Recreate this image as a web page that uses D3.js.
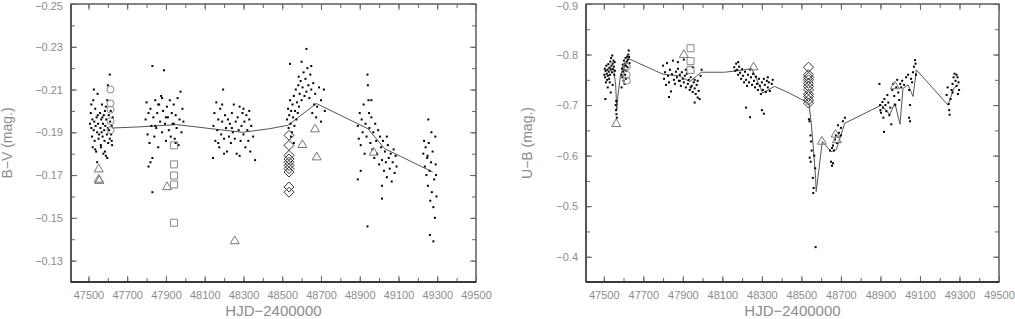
<!DOCTYPE html>
<html>
<head>
<meta charset="utf-8">
<script src="https://cdn.jsdelivr.net/npm/d3@7"></script>
<style>
  body { margin: 0; background: #fff; }
  text { font-family: "Liberation Sans", Arial, sans-serif; fill: #8c8c8c; }
</style>
</head>
<body>
<svg id="chart" width="1015" height="319"></svg>
<script>
// ---- data : B-V panel ----
const bvS1 = [[47512,-0.199],[47515,-0.192],[47518,-0.188],[47520,-0.196],[47522,-0.183],[47525,-0.205],[47527,-0.191],[47530,-0.195],
  [47532,-0.186],[47535,-0.201],[47537,-0.193],[47540,-0.181],[47542,-0.197],[47545,-0.190],[47547,-0.208],[47550,-0.194],[47552,-0.187],
  [47560,-0.199],[47562,-0.192],[47564,-0.184],[47566,-0.196],[47568,-0.190],[47570,-0.203],[47573,-0.188],[47575,-0.194],[47577,-0.180],
  [47579,-0.198],[47581,-0.191],[47583,-0.186],[47585,-0.200],[47587,-0.193],[47590,-0.179],[47592,-0.196],[47595,-0.189],[47597,-0.205],
  [47600,-0.192],[47602,-0.185],[47605,-0.198],[47607,-0.191],[47610,-0.187],[47612,-0.195],[47615,-0.200],[47617,-0.189],[47620,-0.193],
  [47622,-0.184],[47625,-0.197],[47610,-0.217],[47528,-0.210],[47545,-0.176],[47597,-0.178],[47600,-0.212],[47535,-0.182],[47565,-0.183],
  [47585,-0.181],[47515,-0.203],[47548,-0.198],[47590,-0.202],[47620,-0.186],[47508,-0.194],[47555,-0.189],[47572,-0.197]];
const bvS2 = [[47795,-0.196],[47800,-0.204],[47805,-0.189],[47810,-0.199],[47815,-0.185],[47820,-0.201],[47825,-0.193],[47830,-0.221],
  [47835,-0.197],[47840,-0.188],[47845,-0.205],[47850,-0.192],[47855,-0.199],[47860,-0.183],[47865,-0.203],[47870,-0.195],[47875,-0.207],
  [47880,-0.190],[47885,-0.200],[47890,-0.219],[47895,-0.194],[47900,-0.186],[47905,-0.202],[47910,-0.197],[47915,-0.191],[47920,-0.205],
  [47925,-0.188],[47930,-0.199],[47935,-0.194],[47940,-0.203],[47945,-0.187],[47950,-0.198],[47955,-0.192],[47960,-0.206],[47965,-0.184],
  [47970,-0.196],[47975,-0.209],[47980,-0.190],[47985,-0.201],[47990,-0.195],[47830,-0.178],[47810,-0.174],[47820,-0.176],[47830,-0.162],
  [47860,-0.203],[47880,-0.206],[47900,-0.197],[47940,-0.194],[47950,-0.185],[47845,-0.193]];
const bvS3 = [[48145,-0.193],[48150,-0.199],[48155,-0.186],[48160,-0.204],[48165,-0.191],[48170,-0.196],[48175,-0.183],[48180,-0.201],
  [48185,-0.189],[48190,-0.195],[48195,-0.210],[48200,-0.187],[48205,-0.198],[48210,-0.192],[48215,-0.181],[48220,-0.196],[48225,-0.188],
  [48230,-0.194],[48235,-0.185],[48240,-0.199],[48245,-0.190],[48250,-0.203],[48255,-0.187],[48260,-0.195],[48265,-0.180],[48270,-0.197],
  [48275,-0.191],[48280,-0.202],[48285,-0.186],[48290,-0.193],[48295,-0.199],[48300,-0.189],[48305,-0.195],[48310,-0.183],[48315,-0.198],
  [48320,-0.191],[48325,-0.186],[48330,-0.196],[48335,-0.181],[48340,-0.193],[48350,-0.188],[48360,-0.177],[48143,-0.178],[48200,-0.180],
  [48280,-0.179],[48190,-0.203],[48240,-0.192],[48300,-0.201],[48330,-0.200],[48170,-0.185]];
const bvS4 = [[48525,-0.196],[48530,-0.201],[48533,-0.192],[48536,-0.198],[48540,-0.205],[48543,-0.194],[48546,-0.200],[48550,-0.190],
  [48553,-0.203],[48556,-0.197],[48560,-0.207],[48563,-0.193],[48566,-0.200],[48570,-0.210],[48573,-0.196],[48576,-0.204],[48580,-0.199],
  [48583,-0.212],[48586,-0.202],[48590,-0.208],[48595,-0.214],[48600,-0.205],[48605,-0.211],[48610,-0.218],[48615,-0.207],[48620,-0.215],
  [48625,-0.209],[48630,-0.220],[48635,-0.212],[48640,-0.206],[48645,-0.217],[48650,-0.210],[48655,-0.199],[48660,-0.213],[48665,-0.203],
  [48670,-0.208],[48675,-0.197],[48680,-0.202],[48690,-0.211],[48700,-0.205],[48720,-0.200],[48625,-0.229],[48540,-0.222],[48600,-0.223],
  [48650,-0.221],[48560,-0.185],[48545,-0.188],[48700,-0.195],[48715,-0.210],[48585,-0.216]];
const bvS5 = [[48890,-0.193],[48895,-0.187],[48900,-0.199],[48905,-0.184],[48910,-0.196],[48915,-0.190],[48920,-0.203],[48925,-0.180],
  [48930,-0.194],[48935,-0.188],[48940,-0.217],[48942,-0.212],[48945,-0.205],[48948,-0.199],[48950,-0.192],[48955,-0.185],[48960,-0.197],
  [48965,-0.182],[48970,-0.190],[48975,-0.178],[48980,-0.194],[48985,-0.186],[48990,-0.180],[48995,-0.191],[49000,-0.175],[49005,-0.188],
  [49010,-0.183],[49015,-0.177],[49020,-0.186],[49025,-0.172],[49030,-0.181],[49035,-0.176],[49040,-0.169],[49045,-0.184],[49050,-0.178],
  [49055,-0.173],[49060,-0.180],[49065,-0.167],[49070,-0.176],[49075,-0.182],[49080,-0.171],[49085,-0.179],[49090,-0.174],[48940,-0.146],
  [49015,-0.159],[49015,-0.165],[48890,-0.168],[48905,-0.172],[48960,-0.205],[49040,-0.188]];
const bvS6 = [[49228,-0.180],[49232,-0.186],[49236,-0.174],[49240,-0.183],[49244,-0.170],[49248,-0.178],[49252,-0.165],[49256,-0.185],
  [49260,-0.172],[49264,-0.158],[49268,-0.176],[49272,-0.162],[49276,-0.181],[49280,-0.155],[49284,-0.168],[49288,-0.150],[49292,-0.175],
  [49296,-0.160],[49254,-0.196],[49270,-0.190],[49290,-0.188],[49262,-0.142],[49280,-0.139],[49294,-0.170],[49250,-0.179]];
const bvLine = [[47620,-0.192],[47755,-0.1925],[47955,-0.1936],[48161,-0.1914],[48296,-0.190],[48435,-0.1917],[48530,-0.1933],
  [48676,-0.2035],[48942,-0.1917],[49028,-0.1824],[49277,-0.1714]];
const bvTriangles = [[47553,-0.173],[47553,-0.1682],[47556,-0.1676],[47906,-0.1647],[48255,-0.1394],[48604,-0.1844],[48669,-0.1917],
  [48678,-0.1786],[48972,-0.1808]];
const bvSquares = [[47942,-0.1839],[47942,-0.175],[47942,-0.1698],[47942,-0.1656],[47942,-0.1477]];
const bvCircles = [[47614,-0.210],[47614,-0.2035],[47614,-0.2006],[47614,-0.1952],[47614,-0.191]];
const bvDiamonds = [[48535,-0.1886],[48535,-0.1839],[48535,-0.1792],[48535,-0.1775],[48535,-0.1760],[48535,-0.1745],[48535,-0.1730],
  [48535,-0.1714],[48535,-0.1644],[48535,-0.162]];

// ---- data : U-B panel ----
const ubS1 = [[47503,-0.760],[47505,-0.772],[47507,-0.755],[47509,-0.768],[47511,-0.745],[47513,-0.778],[47515,-0.762],[47517,-0.750],
  [47519,-0.770],[47521,-0.758],[47523,-0.781],[47525,-0.766],[47527,-0.752],[47529,-0.774],[47531,-0.760],[47533,-0.786],[47535,-0.770],
  [47537,-0.793],[47539,-0.778],[47541,-0.765],[47543,-0.798],[47545,-0.782],[47547,-0.771],[47549,-0.788],[47551,-0.776],[47553,-0.760],
  [47555,-0.785],[47557,-0.768],[47545,-0.740],[47520,-0.735],[47508,-0.712],[47535,-0.725],[47560,-0.700],[47562,-0.690],[47564,-0.682],
  [47563,-0.708],[47566,-0.675],[47530,-0.745],[47590,-0.760],[47592,-0.772],[47594,-0.755],[47596,-0.780],[47598,-0.766],[47600,-0.775],
  [47602,-0.788],[47604,-0.770],[47606,-0.782],[47608,-0.760],[47610,-0.793],[47612,-0.778],[47614,-0.768],[47616,-0.786],[47618,-0.796],
  [47620,-0.775],[47622,-0.790],[47624,-0.800],[47626,-0.808],[47628,-0.795],[47630,-0.783],[47600,-0.748],[47605,-0.742],[47612,-0.752],
  [47590,-0.735]];
const ubS2 = [[47800,-0.778],[47805,-0.752],[47810,-0.765],[47815,-0.740],[47820,-0.783],[47825,-0.758],[47830,-0.745],[47835,-0.770],
  [47840,-0.727],[47845,-0.761],[47850,-0.788],[47855,-0.750],[47860,-0.742],[47865,-0.766],[47870,-0.755],[47875,-0.772],[47880,-0.748],
  [47885,-0.760],[47890,-0.738],[47895,-0.765],[47900,-0.752],[47905,-0.745],[47910,-0.758],[47915,-0.735],[47920,-0.762],[47925,-0.742],
  [47930,-0.750],[47935,-0.730],[47940,-0.755],[47945,-0.738],[47950,-0.726],[47955,-0.745],[47960,-0.733],[47965,-0.722],[47970,-0.740],
  [47975,-0.748],[47980,-0.728],[47985,-0.712],[47990,-0.758],[47995,-0.770],[47905,-0.790],[47950,-0.775],[47960,-0.705],[47975,-0.715],
  [47830,-0.716],[47875,-0.785],[47915,-0.770],[47940,-0.735],[47885,-0.748],[47960,-0.750]];
const ubS3 = [[48160,-0.775],[48165,-0.768],[48170,-0.782],[48175,-0.770],[48180,-0.760],[48185,-0.776],[48190,-0.764],[48195,-0.752],
  [48200,-0.771],[48205,-0.758],[48210,-0.745],[48215,-0.766],[48220,-0.750],[48225,-0.738],[48230,-0.760],[48235,-0.745],[48240,-0.770],
  [48245,-0.755],[48250,-0.740],[48255,-0.762],[48260,-0.748],[48265,-0.735],[48270,-0.756],[48275,-0.742],[48280,-0.730],[48285,-0.752],
  [48290,-0.738],[48295,-0.722],[48300,-0.745],[48305,-0.730],[48310,-0.752],[48315,-0.740],[48320,-0.726],[48325,-0.748],[48330,-0.735],
  [48335,-0.745],[48340,-0.728],[48350,-0.742],[48355,-0.750],[48220,-0.695],[48240,-0.676],[48300,-0.690],[48310,-0.683],[48180,-0.785],
  [48330,-0.755]];
const ubS4 = [[48538,-0.672],[48541,-0.668],[48546,-0.640],[48549,-0.628],[48542,-0.596],[48547,-0.588],[48552,-0.610],[48558,-0.556],
  [48562,-0.536],[48560,-0.526],[48572,-0.419],[48565,-0.600],[48570,-0.575],[48650,-0.588],[48655,-0.580],[48660,-0.585],[48645,-0.610],
  [48660,-0.620],[48670,-0.632],[48675,-0.640],[48680,-0.625],[48690,-0.645],[48700,-0.655],[48710,-0.668],[48720,-0.675],[48665,-0.610],
  [48685,-0.660],[48700,-0.640],[48655,-0.615]];
const ubS5 = [[48895,-0.742],[48898,-0.700],[48900,-0.690],[48903,-0.685],[48910,-0.706],[48913,-0.695],[48915,-0.675],[48918,-0.647],
  [48920,-0.712],[48925,-0.700],[48930,-0.688],[48935,-0.720],[48940,-0.705],[48945,-0.680],[48950,-0.695],[48955,-0.662],[48960,-0.730],
  [48965,-0.742],[48970,-0.718],[48975,-0.700],[48980,-0.735],[48985,-0.750],[48990,-0.725],[48995,-0.710],[49000,-0.742],[49005,-0.735],
  [49010,-0.748],[49020,-0.740],[49030,-0.755],[49040,-0.760],[49045,-0.730],[49050,-0.700],[49055,-0.752],[49060,-0.745],[49065,-0.765],
  [49070,-0.776],[49075,-0.789],[49078,-0.782],[49080,-0.760],[49045,-0.675],[49050,-0.668]];
const ubS6 = [[49235,-0.720],[49240,-0.735],[49245,-0.702],[49248,-0.690],[49250,-0.681],[49255,-0.712],[49260,-0.730],[49265,-0.742],
  [49270,-0.755],[49275,-0.762],[49280,-0.748],[49285,-0.738],[49290,-0.755],[49295,-0.745],[49298,-0.730],[49285,-0.760],[49265,-0.725],
  [49292,-0.722]];
const ubLine = [[47505,-0.765],[47530,-0.775],[47550,-0.770],[47560,-0.740],[47566,-0.690],[47572,-0.720],[47585,-0.760],[47600,-0.775],
  [47625,-0.792],[47800,-0.761],[47880,-0.758],[47935,-0.7465],[47993,-0.765],[48110,-0.765],[48170,-0.7676],[48250,-0.772],[48304,-0.724],
  [48364,-0.737],[48440,-0.7235],[48538,-0.7037],[48550,-0.664],[48562,-0.608],[48572,-0.5555],[48575,-0.529],[48606,-0.628],[48651,-0.608],
  [48677,-0.612],[48719,-0.664],[48905,-0.700],[48947,-0.681],[48973,-0.704],[48999,-0.662],[49014,-0.733],[49040,-0.740],[49065,-0.717],
  [49082,-0.7696],[49242,-0.700],[49271,-0.733],[49292,-0.740]];
const ubTriangles = [[47563,-0.664],[47905,-0.8006],[48258,-0.776],[48604,-0.629],[48673,-0.643],[48680,-0.632],[48973,-0.7386]];
const ubSquares = [[47939,-0.8125],[47939,-0.787],[47939,-0.7696]];
const ubCircles = [[47616,-0.776],[47616,-0.760],[47616,-0.748]];
const ubDiamonds = [[48536,-0.775],[48536,-0.760],[48536,-0.755],[48536,-0.750],[48536,-0.743],[48536,-0.737],[48536,-0.730],
  [48536,-0.7215],[48536,-0.717],[48536,-0.710],[48536,-0.704]];

const xTicks = [47500, 47700, 47900, 48100, 48300, 48500, 48700, 48900, 49100, 49300, 49500];
const bvTicks = [-0.25, -0.23, -0.21, -0.19, -0.17, -0.15, -0.13];
const ubTicks = [-0.9, -0.8, -0.7, -0.6, -0.5, -0.4];

const svg = d3.select("#chart");

function drawPanel(p) {
  const x = d3.scaleLinear().domain([47410, 49500]).range([p.left, p.right]);
  const y = d3.scaleLinear().domain(p.yDomain).range([4, 282]);
  const g = svg.append("g");

  // frame
  g.append("rect")
    .attr("x", p.left).attr("y", 4)
    .attr("width", p.right - p.left).attr("height", 278)
    .attr("fill", "none").attr("stroke", "#333").attr("stroke-width", 1.2);

  const minorX = d3.range(47500, 49501, 100);
  const tickStyle = sel => {
    sel.select(".domain").remove();
    sel.selectAll("line").attr("stroke", "#666");
  };

  g.append("g").attr("transform", `translate(0,282)`)
    .call(d3.axisBottom(x).tickValues(minorX).tickSize(-4).tickFormat(""))
    .call(tickStyle);
  g.append("g").attr("transform", `translate(0,4)`)
    .call(d3.axisTop(x).tickValues(minorX).tickSize(-4).tickFormat(""))
    .call(tickStyle);
  g.append("g").attr("transform", `translate(0,282)`)
    .call(d3.axisBottom(x).tickValues(xTicks).tickSize(-6).tickPadding(9).tickFormat(d3.format("d")))
    .call(tickStyle)
    .selectAll("text").style("font-size", "11px").attr("fill", "#8c8c8c")
      .style("font-family", "Liberation Sans, Arial, sans-serif");
  g.append("g").attr("transform", `translate(0,4)`)
    .call(d3.axisTop(x).tickValues(xTicks).tickSize(-6).tickFormat(""))
    .call(tickStyle);

  g.append("g").attr("transform", `translate(${p.left},0)`)
    .call(d3.axisLeft(y).tickValues(p.yMinor).tickSize(-4).tickFormat(""))
    .call(tickStyle);
  g.append("g").attr("transform", `translate(${p.right},0)`)
    .call(d3.axisRight(y).tickValues(p.yMinor).tickSize(-4).tickFormat(""))
    .call(tickStyle);
  g.append("g").attr("transform", `translate(${p.left},0)`)
    .call(d3.axisLeft(y).tickValues(p.yTicks).tickSize(-6).tickPadding(8).tickFormat(d3.format(p.fmt)))
    .call(tickStyle)
    .selectAll("text").style("font-size", "11px").attr("fill", "#8c8c8c")
      .style("font-family", "Liberation Sans, Arial, sans-serif")
      .attr("dy", (d, i) => i === 0 ? "0.5em" : "0.32em");
  g.append("g").attr("transform", `translate(${p.right},0)`)
    .call(d3.axisRight(y).tickValues(p.yTicks).tickSize(-6).tickFormat(""))
    .call(tickStyle);

  // heavier left / bottom edges
  g.append("line").attr("x1", p.left).attr("x2", p.left).attr("y1", 4).attr("y2", 282)
    .attr("stroke", "#555").attr("stroke-width", 2);
  g.append("line").attr("x1", p.left).attr("x2", p.right).attr("y1", 282).attr("y2", 282)
    .attr("stroke", "#222").attr("stroke-width", 1.5);

  // titles
  g.append("text")
    .attr("x", (p.left + p.right) / 2).attr("y", 316)
    .attr("text-anchor", "middle")
    .style("font-size", "15px")
    .text("HJD\u22122400000");
  g.append("text")
    .attr("transform", `translate(${p.titleX},143) rotate(-90)`)
    .attr("text-anchor", "middle")
    .style("font-size", "14px")
    .text(p.yTitle);

  // mean curve
  g.append("path")
    .datum(p.line)
    .attr("fill", "none").attr("stroke", "#555").attr("stroke-width", 1)
    .attr("d", d3.line().x(d => x(d[0])).y(d => y(d[1])));

  // photometric points
  g.append("g").selectAll("rect")
    .data(p.dots)
    .join("rect")
      .attr("x", d => x(d[0]) - 1).attr("y", d => y(d[1]) - 1)
      .attr("width", 2).attr("height", 2)
      .attr("fill", "#000");

  const shapes = [
    { data: p.triangles, d: "M0,-4.5L4.5,3.2L-4.5,3.2Z", color: "#777" },
    { data: p.squares, d: "M-3.5,-3.5H3.5V3.5H-3.5Z", color: "#888" },
    { data: p.circles, d: "M3.5,0A3.5,3.5 0 1,1 -3.5,0A3.5,3.5 0 1,1 3.5,0Z", color: "#888" },
    { data: p.diamonds, d: "M0,-5L5,0L0,5L-5,0Z", color: "#333" }
  ];
  shapes.forEach(s => {
    g.append("g").selectAll("path")
      .data(s.data)
      .join("path")
        .attr("transform", d => `translate(${x(d[0])},${y(d[1])})`)
        .attr("d", s.d)
        .attr("fill", "none")
        .attr("stroke", s.color)
        .attr("stroke-width", 1);
  });
}

drawPanel({
  left: 71, right: 476, yDomain: [-0.25, -0.12], yTicks: bvTicks,
  yMinor: d3.range(-0.25, -0.115, 0.01), fmt: ".2f",
  yTitle: "B\u2212V (mag.)", titleX: 12,
  dots: [...bvS1, ...bvS2, ...bvS3, ...bvS4, ...bvS5, ...bvS6],
  line: bvLine, triangles: bvTriangles, squares: bvSquares, circles: bvCircles, diamonds: bvDiamonds
});

drawPanel({
  left: 586, right: 999, yDomain: [-0.9, -0.35], yTicks: ubTicks,
  yMinor: d3.range(-0.9, -0.34, 0.05), fmt: ".1f",
  yTitle: "U\u2212B (mag.)", titleX: 532,
  dots: [...ubS1, ...ubS2, ...ubS3, ...ubS4, ...ubS5, ...ubS6],
  line: ubLine, triangles: ubTriangles, squares: ubSquares, circles: ubCircles, diamonds: ubDiamonds
});
</script>
</body>
</html>
